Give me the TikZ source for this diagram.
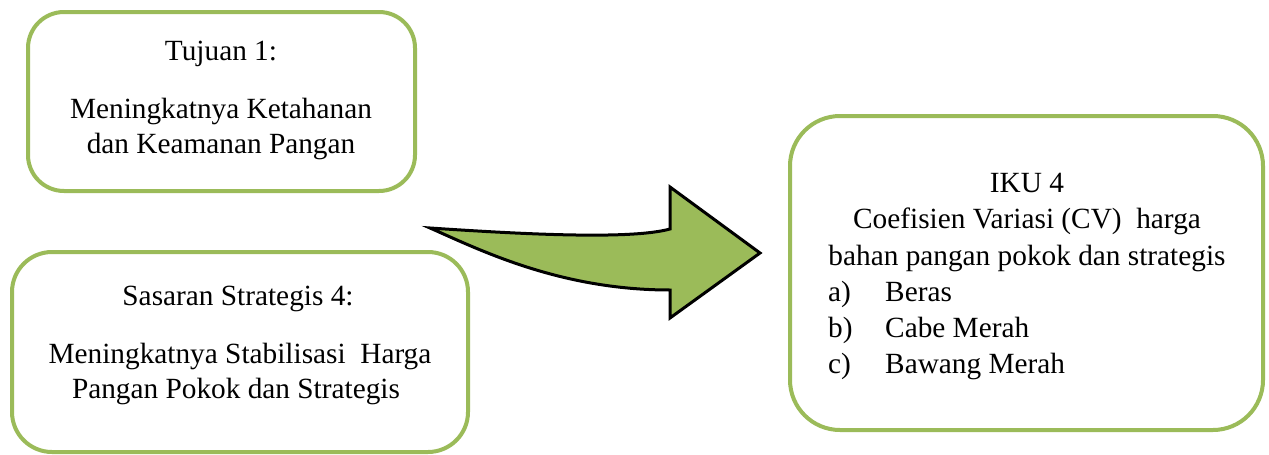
\documentclass[tikz,border=0pt]{standalone}
\usepackage{fontspec}
\setmainfont{Liberation Serif}
\definecolor{olive}{HTML}{9BBB59}
\tikzset{
  gbox/.style={draw=olive, line width=4pt, fill=white},
  txt/.style={anchor=base, inner sep=0pt, font=\fontsize{29.3}{36}\selectfont},
  txtl/.style={anchor=base west, inner sep=0pt, font=\fontsize{29.3}{36}\selectfont},
  bigarrow/.style={draw=black, line width=3pt, fill=olive, line join=miter, miter limit=10}
}
\begin{document}
\begin{tikzpicture}[x=1pt,y=-1pt]
\useasboundingbox (0,0) rectangle (1269,455);
% boxes
\draw[gbox, rounded corners=36pt] (28,12) rectangle (415,191);
\draw[gbox, rounded corners=40pt] (12,252) rectangle (468,452);
\draw[gbox, rounded corners=50pt] (790,116) rectangle (1263,430);
\node (b1) at (221,101) {};
\node (b2) at (240,352) {};
\node (b3) at (1027,273) {};
% arrow
\draw[bigarrow] (430,228) .. controls (520,234) and (630,240) .. (670,229)
  -- (670,187) -- (760,253) -- (670,318) -- (670,290)
  .. controls (560,290) and (480,250) .. cycle;
% texts box 1
\node[txt] (t1a) at (221,60) {Tujuan 1:};
\node[txt] (t1b) at (221,118) {Meningkatnya Ketahanan};
\node[txt] (t1c) at (221,153) {dan Keamanan Pangan};
% texts box 2
\node[txt] (t2a) at (238,305) {Sasaran Strategis 4:};
\node[txt] (t2b) at (240,363) {Meningkatnya Stabilisasi\ \ Harga};
\node[txt] (t2c) at (236,398) {Pangan Pokok dan Strategis};
% texts box 3
\node[txt] (t3a) at (1027,192) {IKU 4};
\node[txt] (t3b) at (1027,228) {Coefisien Variasi (CV)\ \ harga};
\node[txt] (t3c) at (1027,265) {bahan pangan pokok dan strategis};
\node[txtl] (l1) at (828,301) {a)};
\node[txtl] (l1t) at (885,301) {Beras};
\node[txtl] (l2) at (828,337) {b)};
\node[txtl] (l2t) at (885,337) {Cabe Merah};
\node[txtl] (l3) at (828,373) {c)};
\node[txtl] (l3t) at (885,373) {Bawang Merah};
\end{tikzpicture}
\end{document}
